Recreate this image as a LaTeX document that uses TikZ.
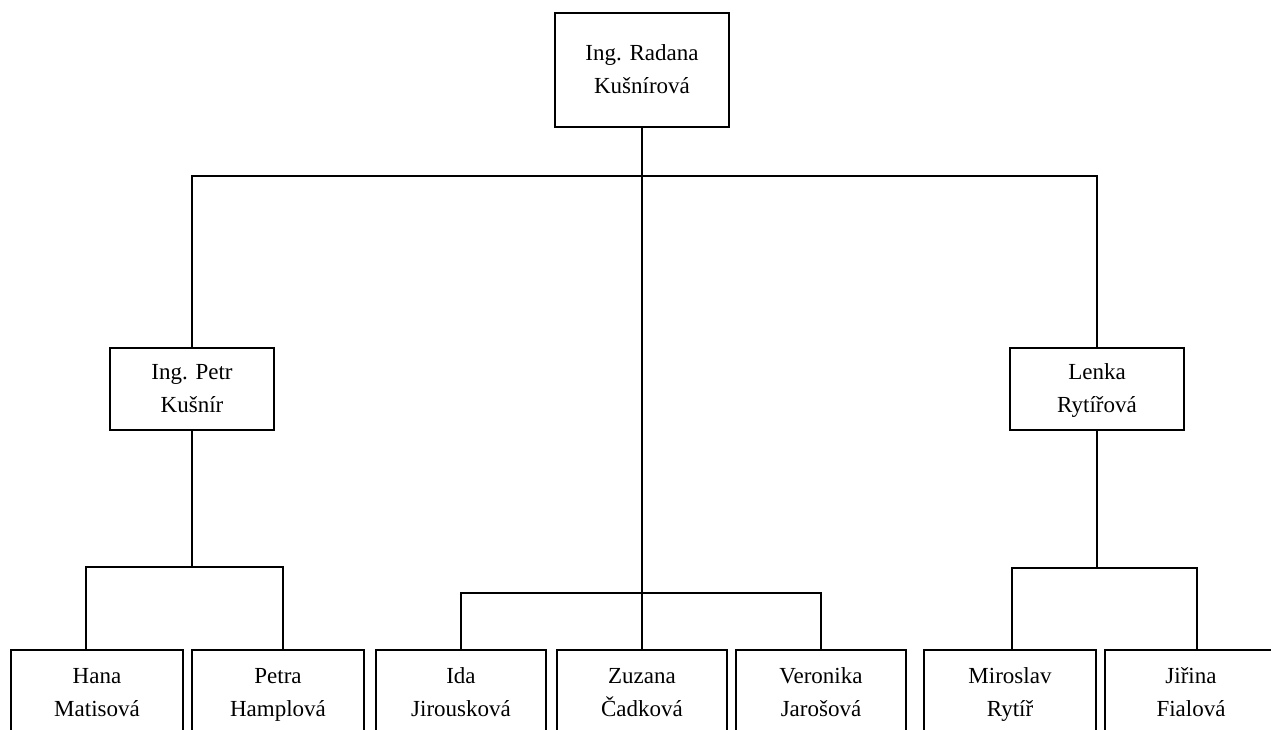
\documentclass[tikz,border=0pt]{standalone}
\usepackage{fontspec}
\setmainfont{Liberation Serif}

\newcommand{\who}[2]{#1\strut\\#2\strut}

\begin{document}
\begin{tikzpicture}[x=1pt, y=-1pt, line width=2.4pt,
    box/.style={draw, rectangle, align=center, inner sep=0pt, font=\fontsize{23}{33}\selectfont},
    lowbox/.style={box, minimum width=172pt, minimum height=86pt}]
    \useasboundingbox (0,0) rectangle (1271,729);
    \clip (0,0) rectangle (1271,729);

    % people
    \node[box, minimum width=174pt, minimum height=114pt] (radana) at (642,70) {\who{Ing. Radana}{Kušnírová}};
    \node[box, minimum width=164pt, minimum height=82pt] (petr) at (192,389) {\who{Ing. Petr}{Kušnír}};
    \node[box, minimum width=174pt, minimum height=82pt] (lenka) at (1097,389) {\who{Lenka}{Rytířová}};

    \node[lowbox] (hana) at (97,693) {\who{Hana}{Matisová}};
    \node[lowbox] (petra) at (278,693) {\who{Petra}{Hamplová}};
    \node[lowbox, minimum width=170pt] (ida) at (461,693) {\who{Ida}{Jirousková}};
    \node[lowbox, minimum width=170pt] (zuzana) at (642,693) {\who{Zuzana}{Čadková}};
    \node[lowbox, minimum width=170pt] (veronika) at (821,693) {\who{Veronika}{Jarošová}};
    \node[lowbox] (miroslav) at (1010,693) {\who{Miroslav}{Rytíř}};
    \node[lowbox] (jirina) at (1191,693) {\who{Jiřina}{Fialová}};

    % lines
    \coordinate (busTop) at (642,176);
    \coordinate (busMid) at (642,593);
    \coordinate (busLeft) at (192,567);
    \coordinate (busRight) at (1097,568);

    \draw (radana) -- (zuzana);
    \draw (petr) |- (busTop) -| (lenka);
    \draw (ida) |- (busMid) -| (veronika);

    \draw (petr) -- (busLeft);
    \draw ([xshift=-11pt]hana.north) |- (busLeft) -| ([xshift=5pt]petra.north);

    \draw (lenka) -- (busRight);
    \draw ([xshift=2pt]miroslav.north) |- (busRight) -| ([xshift=6pt]jirina.north);
\end{tikzpicture}
\end{document}
